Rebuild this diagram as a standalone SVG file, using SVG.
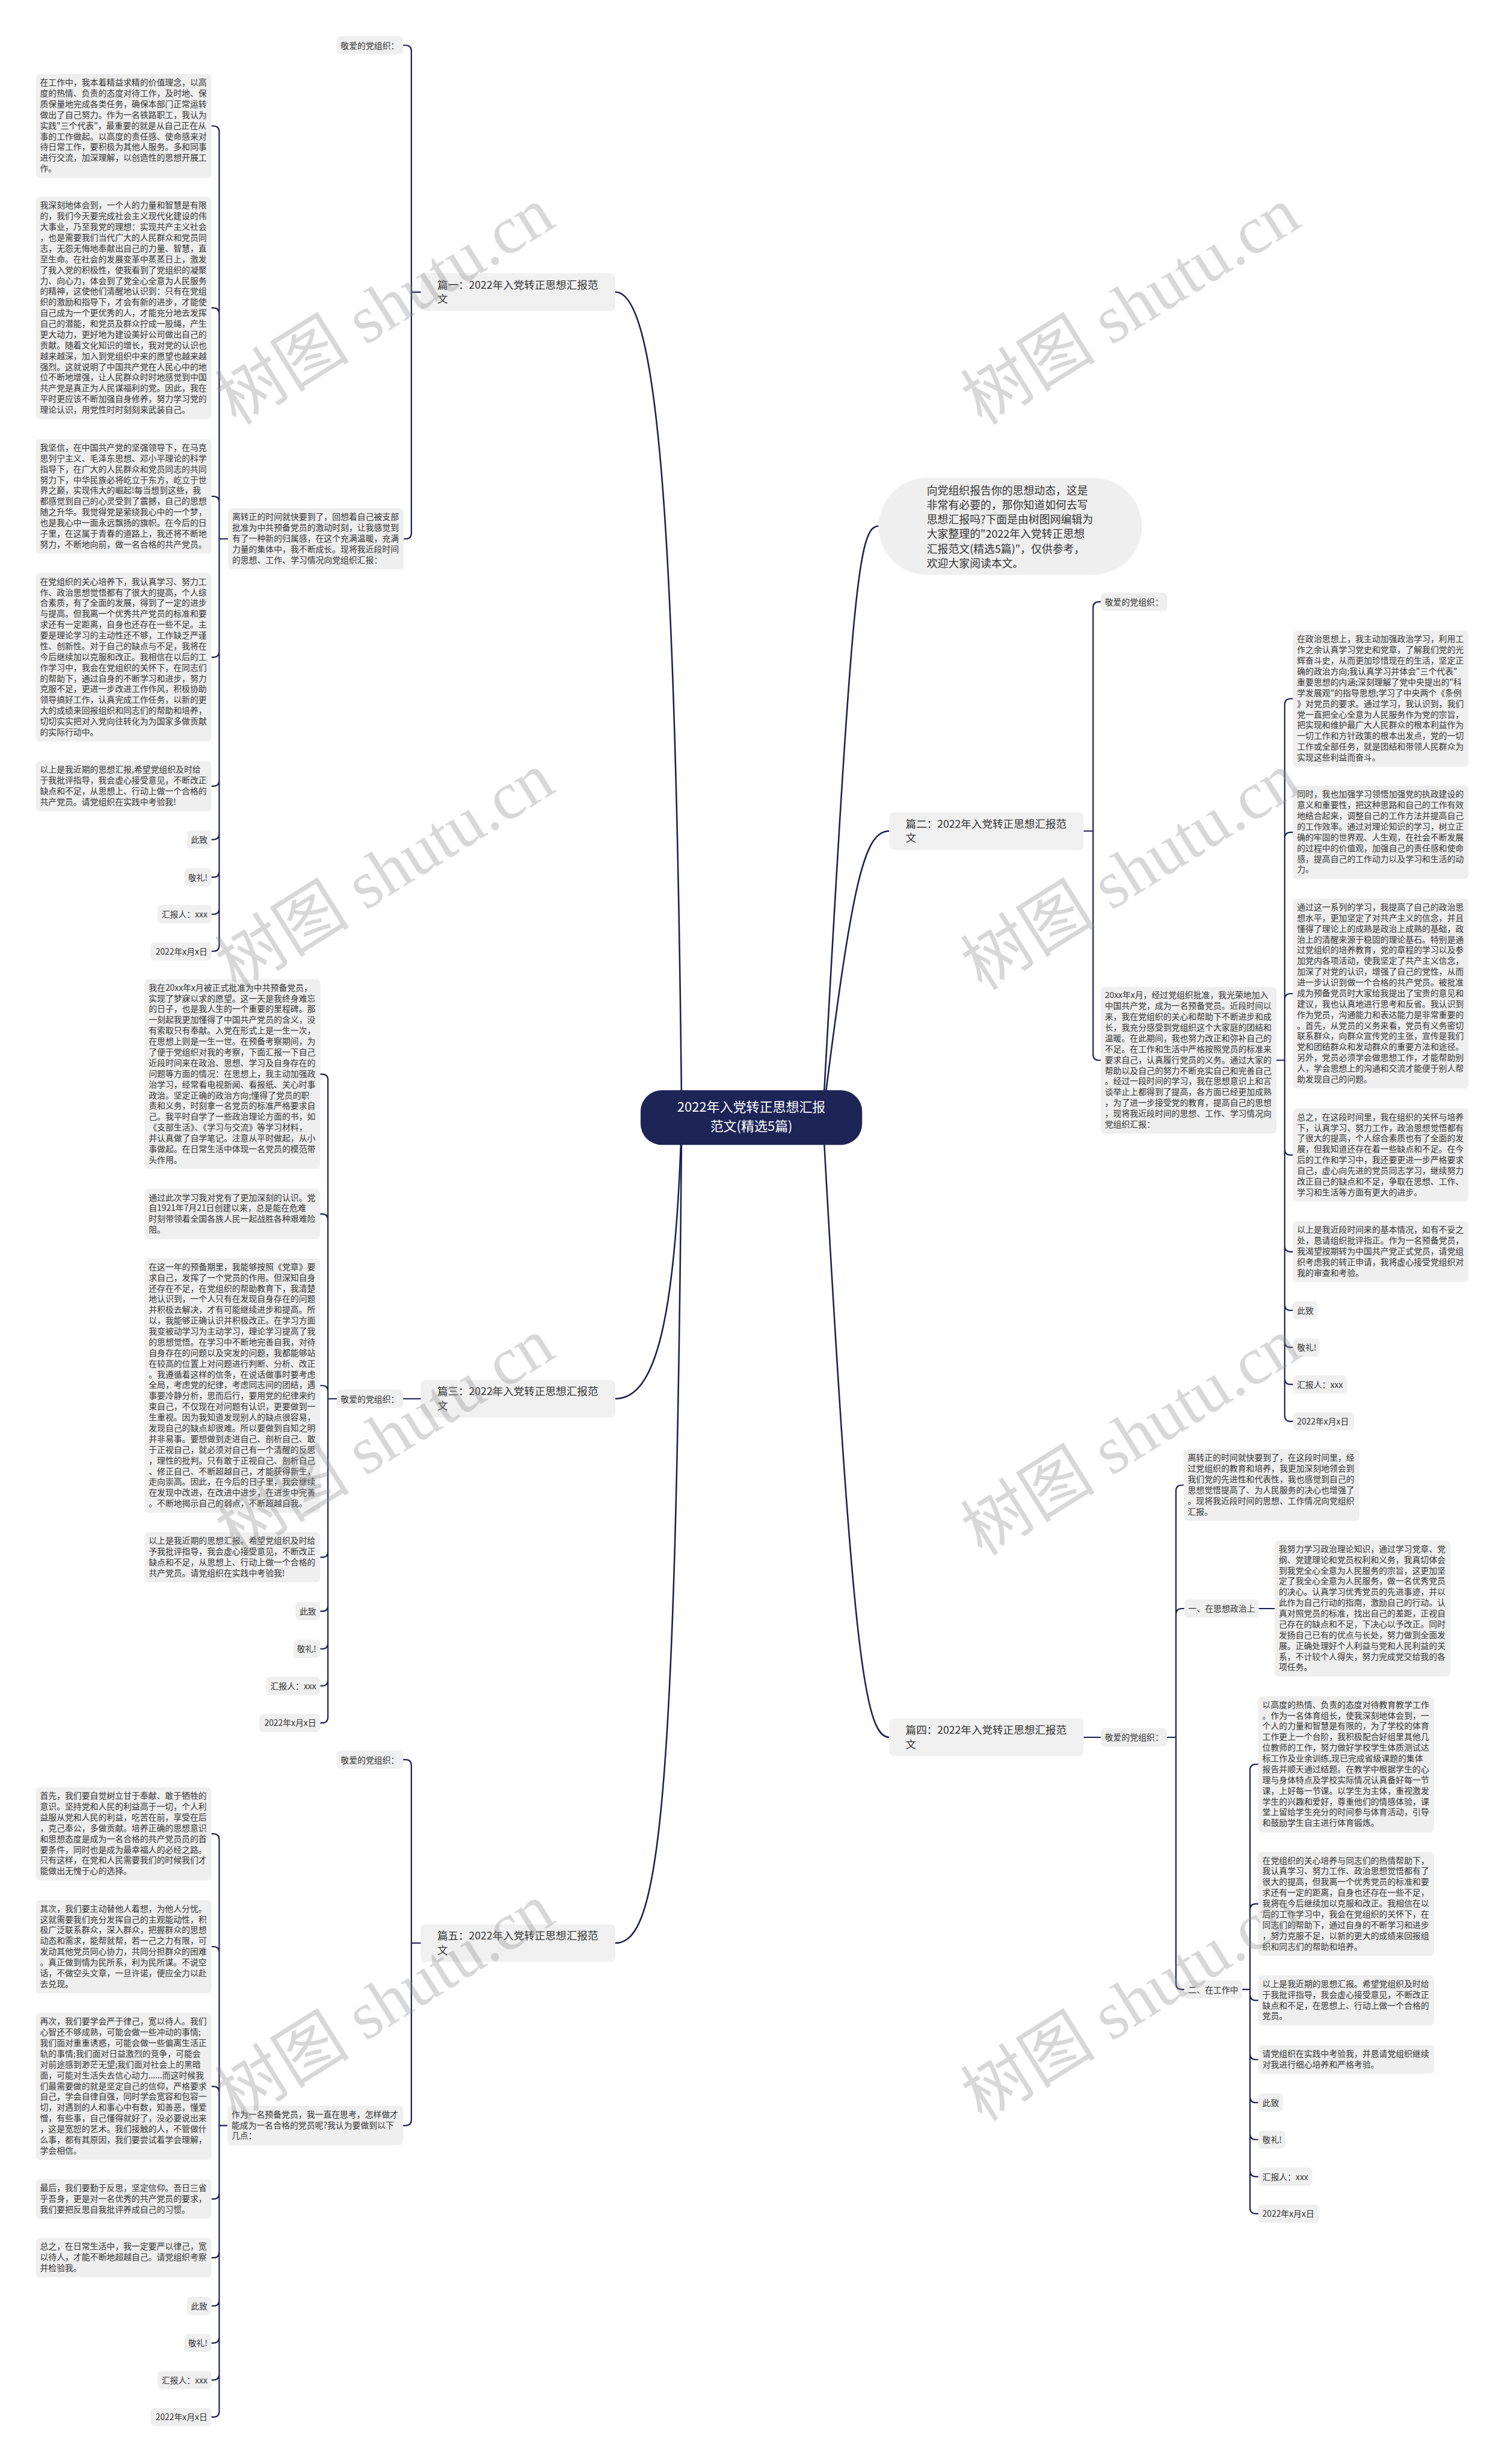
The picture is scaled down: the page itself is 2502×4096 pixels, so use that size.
<svg xmlns="http://www.w3.org/2000/svg" width="2502" height="4096" viewBox="0 0 2502 4096">
<style>
.t{font-family:"Noto Sans CJK SC","Liberation Sans",sans-serif;font-size:14.2px;fill:#333}
.e{text-anchor:end}
.bx{fill:#efefef}
.sb{fill:#f0f0f0}
.st{font-family:"Noto Sans CJK SC","Liberation Sans",sans-serif;font-size:18px;fill:#333}
.ln{fill:none;stroke:#1b1f4f;stroke-width:2.2;stroke-linecap:round}
.rt{fill:none;stroke:#1b1f4f;stroke-width:2.6}
.wm{font-family:"Liberation Serif","Noto Sans CJK SC",serif;font-size:115px;fill:#8c8c8c;opacity:0.33;text-anchor:middle}
</style>
<rect x="0" y="0" width="2502" height="4096" fill="#ffffff"/>
<g transform="scale(0.977)">
<g id="connectors">
<path class="rt" d="M1160 1901 C1150 900 1120 497 1047 497"/>
<path class="rt" d="M1160 1901 C1150 2250 1115 2380 1047 2380"/>
<path class="rt" d="M1160 1901 C1150 3100 1120 3306 1047 3306"/>
<path class="rt" d="M1400 1901 C1450 1000 1460 895 1495 895"/>
<path class="rt" d="M1400 1901 C1450 1500 1470 1414 1513 1414"/>
<path class="rt" d="M1400 1901 C1450 2800 1470 2956 1513 2956"/>
<path class="ln" d="M716 497 H700 M686 77 H690 Q700 77 700 87 V906.8 Q700 916.8 690 916.8 H687"/>
<path class="ln" d="M388 916.8 H373 M360 214.4 H363 Q373 214.4 373 224.4 V1608.5 Q373 1618.5 363 1618.5 H360 M373 534 Q373 524 363 524 H360 M373 854.5 Q373 844.5 363 844.5 H360 M373 1108.3 Q373 1118.3 363 1118.3 H360 M373 1327.6 Q373 1337.6 363 1337.6 H360 M373 1418.5 Q373 1428.5 363 1428.5 H360 M373 1482.5 Q373 1492.5 363 1492.5 H360 M373 1545.5 Q373 1555.5 363 1555.5 H360"/>
<path class="ln" d="M716 2380 H686 M573 2380 H558 M545 1827.6 H548 Q558 1827.6 558 1837.6 V2921.5 Q558 2931.5 548 2931.5 H545 M558 2075.6 Q558 2065.6 548 2065.6 H545 M558 2367.5 Q558 2357.5 548 2357.5 H545 M558 2639.6 Q558 2649.6 548 2649.6 H545 M558 2731.5 Q558 2741.5 548 2741.5 H545 M558 2795.5 Q558 2805.5 548 2805.5 H545 M558 2858.5 Q558 2868.5 548 2868.5 H545"/>
<path class="ln" d="M716 3306 H700 M686 2994 H690 Q700 2994 700 3004 V3606.5 Q700 3616.5 690 3616.5 H686"/>
<path class="ln" d="M387 3616.5 H373 M360 3120.2 H363 Q373 3120.2 373 3130.2 V4102.5 Q373 4112.5 363 4112.5 H360 M373 3322.2 Q373 3312.2 363 3312.2 H360 M373 3560 Q373 3550 363 3550 H360 M373 3731.5 Q373 3741.5 363 3741.5 H360 M373 3831.5 Q373 3841.5 363 3841.5 H360 M373 3913.5 Q373 3923.5 363 3923.5 H360 M373 3976.5 Q373 3986.5 363 3986.5 H360 M373 4039.5 Q373 4049.5 363 4049.5 H360"/>
<path class="ln" d="M1844 1414 H1860 M1873 1024 H1870 Q1860 1024 1860 1034 V1794 Q1860 1804 1870 1804 H1873"/>
<path class="ln" d="M2172 1804 H2186 M2200 1188.8 H2196 Q2186 1188.8 2186 1198.8 V2408.5 Q2186 2418.5 2196 2418.5 H2200 M2186 1426.2 Q2186 1416.2 2196 1416.2 H2200 M2186 1700.6 Q2186 1690.6 2196 1690.6 H2200 M2186 1955.2 Q2186 1965.2 2196 1965.2 H2200 M2186 2119.8 Q2186 2129.8 2196 2129.8 H2200 M2186 2219.5 Q2186 2229.5 2196 2229.5 H2200 M2186 2282.5 Q2186 2292.5 2196 2292.5 H2200 M2186 2345.5 Q2186 2355.5 2196 2355.5 H2200"/>
<path class="ln" d="M1844 2956 H1873 M1986 2956 H2001 M2014 2526.9 H2011 Q2001 2526.9 2001 2536.9 V3375 Q2001 3385 2011 3385 H2015 M2001 2747 Q2001 2737 2011 2737 H2015 M2142 2737 H2169"/>
<path class="ln" d="M2114 3385 H2127 M2141 3001.8 H2137 Q2127 3001.8 2127 3011.8 V3756.5 Q2127 3766.5 2137 3766.5 H2141 M2127 3249.4 Q2127 3239.4 2137 3239.4 H2141 M2127 3393.6 Q2127 3403.6 2137 3403.6 H2141 M2127 3494.3 Q2127 3504.3 2137 3504.3 H2141 M2127 3567.5 Q2127 3577.5 2137 3577.5 H2141 M2127 3630.5 Q2127 3640.5 2137 3640.5 H2141 M2127 3693.5 Q2127 3703.5 2137 3703.5 H2141"/>
</g>

<g id="n-root"><rect x="1090" y="1855" width="377" height="93" rx="36" fill="#1d2456"/><text x="1278.5" y="1892" text-anchor="middle" font-family="Noto Sans CJK SC, Liberation Sans, sans-serif" font-size="22.5" fill="#ffffff"><tspan x="1278.5" dy="0">2022年入党转正思想汇报</tspan><tspan x="1278.5" dy="32">范文(精选5篇)</tspan></text></g>

<g id="n-intro"><rect x="1495" y="813" width="448" height="165" rx="82.5" class="bx"/><text class="t" x="1577" y="841.5" font-size="18.3" style="font-size:18.3px"><tspan x="1577" dy="0">向党组织报告你的思想动态，这是</tspan><tspan x="1577" dy="24.66">非常有必要的，那你知道如何去写</tspan><tspan x="1577" dy="24.66">思想汇报吗?下面是由树图网编辑为</tspan><tspan x="1577" dy="24.66">大家整理的"2022年入党转正思想</tspan><tspan x="1577" dy="24.66">汇报范文(精选5篇)"，仅供参考，</tspan><tspan x="1577" dy="24.66">欢迎大家阅读本文。</tspan></text></g>

<!-- Section 1 -->
<g id="n-s1"><rect x="716" y="465" width="331" height="64" rx="8" class="sb"/><text class="st" x="744" y="491"><tspan x="744" dy="0">篇一：2022年入党转正思想汇报范</tspan><tspan x="744" dy="24">文</tspan></text></g>
<g id="n-s1-dear"><rect x="573" y="61.5" width="113" height="31" rx="7" class="bx"/><text class="t e" x="679" y="82.5">敬爱的党组织：</text></g>
<g id="n-s1-lead"><rect x="388" y="865" width="299" height="103.5" rx="7" class="bx"/><text class="t" x="395" y="884.5"><tspan x="395" dy="0">离转正的时间就快要到了，回想着自己被支部</tspan><tspan x="395" dy="18.3">批准为中共预备党员的激动时刻，让我感觉到</tspan><tspan x="395" dy="18.3">有了一种新的归属感，在这个充满温暖，充满</tspan><tspan x="395" dy="18.3">力量的集体中，我不断成长。现将我近段时间</tspan><tspan x="395" dy="18.3">的思想、工作、学习情况向党组织汇报：</tspan></text></g>
<g id="n-s1-b1"><rect x="61" y="126" width="299" height="176.7" rx="7" class="bx"/><text class="t" x="68" y="145.5"><tspan x="68" dy="0">在工作中，我本着精益求精的价值理念，以高</tspan><tspan x="68" dy="18.3">度的热情、负责的态度对待工作，及时地、保</tspan><tspan x="68" dy="18.3">质保量地完成各类任务，确保本部门正常运转</tspan><tspan x="68" dy="18.3">做出了自己努力。作为一名铁路职工，我认为</tspan><tspan x="68" dy="18.3">实践"三个代表"，最重要的就是从自己正在从</tspan><tspan x="68" dy="18.3">事的工作做起。以高度的责任感、使命感来对</tspan><tspan x="68" dy="18.3">待日常工作，要积极为其他人服务。多和同事</tspan><tspan x="68" dy="18.3">进行交流，加深理解，以创造性的思想开展工</tspan><tspan x="68" dy="18.3">作。</tspan></text></g>
<g id="n-s1-b2"><rect x="61" y="335" width="299" height="378" rx="7" class="bx"/><text class="t" x="68" y="354.5"><tspan x="68" dy="0">我深刻地体会到，一个人的力量和智慧是有限</tspan><tspan x="68" dy="18.3">的，我们今天要完成社会主义现代化建设的伟</tspan><tspan x="68" dy="18.3">大事业，乃至我党的理想：实现共产主义社会</tspan><tspan x="68" dy="18.3">，也是需要我们当代广大的人民群众和党员同</tspan><tspan x="68" dy="18.3">志，无怨无悔地奉献出自己的力量、智慧，直</tspan><tspan x="68" dy="18.3">至生命。在社会的发展变革中蒸蒸日上，激发</tspan><tspan x="68" dy="18.3">了我入党的积极性，使我看到了党组织的凝聚</tspan><tspan x="68" dy="18.3">力、向心力，体会到了党全心全意为人民服务</tspan><tspan x="68" dy="18.3">的精神，这使他们清醒地认识到：只有在党组</tspan><tspan x="68" dy="18.3">织的激励和指导下，才会有新的进步，才能使</tspan><tspan x="68" dy="18.3">自己成为一个更优秀的人，才能充分地去发挥</tspan><tspan x="68" dy="18.3">自己的潜能，和党员及群众拧成一股绳，产生</tspan><tspan x="68" dy="18.3">更大动力，更好地为建设美好公司做出自己的</tspan><tspan x="68" dy="18.3">贡献。随着文化知识的增长，我对党的认识也</tspan><tspan x="68" dy="18.3">越来越深，加入到党组织中来的愿望也越来越</tspan><tspan x="68" dy="18.3">强烈。这就说明了中国共产党在人民心中的地</tspan><tspan x="68" dy="18.3">位不断地增强，让人民群众时时地感觉到中国</tspan><tspan x="68" dy="18.3">共产党是真正为人民谋福利的党。因此，我在</tspan><tspan x="68" dy="18.3">平时更应该不断加强自身修养，努力学习党的</tspan><tspan x="68" dy="18.3">理论认识，用党性时时刻刻来武装自己。</tspan></text></g>
<g id="n-s1-b3"><rect x="61" y="747" width="299" height="195" rx="7" class="bx"/><text class="t" x="68" y="766.5"><tspan x="68" dy="0">我坚信，在中国共产党的坚强领导下，在马克</tspan><tspan x="68" dy="18.3">思列宁主义、毛泽东思想、邓小平理论的科学</tspan><tspan x="68" dy="18.3">指导下，在广大的人民群众和党员同志的共同</tspan><tspan x="68" dy="18.3">努力下，中华民族必将屹立于东方，屹立于世</tspan><tspan x="68" dy="18.3">界之巅，实现伟大的崛起!每当想到这些，我</tspan><tspan x="68" dy="18.3">都感觉到自己的心灵受到了震撼，自己的思想</tspan><tspan x="68" dy="18.3">随之升华。我觉得党是萦绕我心中的一个梦，</tspan><tspan x="68" dy="18.3">也是我心中一面永远飘扬的旗帜。在今后的日</tspan><tspan x="68" dy="18.3">子里，在这属于青春的道路上，我还将不断地</tspan><tspan x="68" dy="18.3">努力，不断地向前，做一名合格的共产党员。</tspan></text></g>
<g id="n-s1-b4"><rect x="61" y="975" width="299" height="286.5" rx="7" class="bx"/><text class="t" x="68" y="994.5"><tspan x="68" dy="0">在党组织的关心培养下，我认真学习、努力工</tspan><tspan x="68" dy="18.3">作、政治思想觉悟都有了很大的提高，个人综</tspan><tspan x="68" dy="18.3">合素质，有了全面的发展，得到了一定的进步</tspan><tspan x="68" dy="18.3">与提高。但我离一个优秀共产党员的标准和要</tspan><tspan x="68" dy="18.3">求还有一定距离，自身也还存在一些不足。主</tspan><tspan x="68" dy="18.3">要是理论学习的主动性还不够，工作缺乏严谨</tspan><tspan x="68" dy="18.3">性、创新性。对于自己的缺点与不足，我将在</tspan><tspan x="68" dy="18.3">今后继续加以克服和改正。我相信在以后的工</tspan><tspan x="68" dy="18.3">作学习中，我会在党组织的关怀下，在同志们</tspan><tspan x="68" dy="18.3">的帮助下，通过自身的不断学习和进步，努力</tspan><tspan x="68" dy="18.3">克服不足，更进一步改进工作作风，积极协助</tspan><tspan x="68" dy="18.3">领导搞好工作，认真完成工作任务，以新的更</tspan><tspan x="68" dy="18.3">大的成绩来回报组织和同志们的帮助和培养，</tspan><tspan x="68" dy="18.3">切切实实把对入党向往转化为为国家多做贡献</tspan><tspan x="68" dy="18.3">的实际行动中。</tspan></text></g>
<g id="n-s1-b5"><rect x="61" y="1295" width="299" height="85.2" rx="7" class="bx"/><text class="t" x="68" y="1314.5"><tspan x="68" dy="0">以上是我近期的思想汇报,希望党组织及时给</tspan><tspan x="68" dy="18.3">于我批评指导，我会虚心接受意见，不断改正</tspan><tspan x="68" dy="18.3">缺点和不足，从思想上、行动上做一个合格的</tspan><tspan x="68" dy="18.3">共产党员。请党组织在实践中考验我!</tspan></text></g>
<g id="n-s1-c1"><rect x="318" y="1413" width="42" height="31" rx="7" class="bx"/><text class="t e" x="353" y="1434">此致</text></g>
<g id="n-s1-c2"><rect x="314" y="1477" width="46" height="31" rx="7" class="bx"/><text class="t e" x="353" y="1498">敬礼!</text></g>
<g id="n-s1-c3"><rect x="268" y="1540" width="92" height="31" rx="7" class="bx"/><text class="t e" x="353" y="1561">汇报人：xxx</text></g>
<g id="n-s1-c4"><rect x="256" y="1603" width="104" height="31" rx="7" class="bx"/><text class="t e" x="353" y="1624">2022年x月x日</text></g>

<!-- Section 3 -->
<g id="n-s3"><rect x="716" y="2348" width="331" height="64" rx="8" class="sb"/><text class="st" x="744" y="2374"><tspan x="744" dy="0">篇三：2022年入党转正思想汇报范</tspan><tspan x="744" dy="24">文</tspan></text></g>
<g id="n-s3-dear"><rect x="573" y="2364.5" width="113" height="31" rx="7" class="bx"/><text class="t e" x="679" y="2385.5">敬爱的党组织：</text></g>
<g id="n-s3-a"><rect x="246" y="1666" width="299" height="323.1" rx="7" class="bx"/><text class="t" x="253" y="1685.5"><tspan x="253" dy="0">我在20xx年x月被正式批准为中共预备党员，</tspan><tspan x="253" dy="18.3">实现了梦寐以求的愿望。这一天是我终身难忘</tspan><tspan x="253" dy="18.3">的日子，也是我人生的一个重要的里程碑。那</tspan><tspan x="253" dy="18.3">一刻起我更加懂得了中国共产党员的含义，没</tspan><tspan x="253" dy="18.3">有索取只有奉献。入党在形式上是一生一次，</tspan><tspan x="253" dy="18.3">在思想上则是一生一世。在预备考察期间，为</tspan><tspan x="253" dy="18.3">了便于党组织对我的考察，下面汇报一下自己</tspan><tspan x="253" dy="18.3">近段时间来在政治、思想、学习及自身存在的</tspan><tspan x="253" dy="18.3">问题等方面的情况：在思想上，我主动加强政</tspan><tspan x="253" dy="18.3">治学习，经常看电视新闻、看报纸、关心时事</tspan><tspan x="253" dy="18.3">政治。坚定正确的政治方向;懂得了党员的职</tspan><tspan x="253" dy="18.3">责和义务，时刻拿一名党员的标准严格要求自</tspan><tspan x="253" dy="18.3">己。我平时自学了一些政治理论方面的书，如</tspan><tspan x="253" dy="18.3">《支部生活》、《学习与交流》等学习材料，</tspan><tspan x="253" dy="18.3">并认真做了自学笔记。注意从平时做起，从小</tspan><tspan x="253" dy="18.3">事做起。在日常生活中体现一名党员的模范带</tspan><tspan x="253" dy="18.3">头作用。</tspan></text></g>
<g id="n-s3-b"><rect x="246" y="2023" width="299" height="85.2" rx="7" class="bx"/><text class="t" x="253" y="2042.5"><tspan x="253" dy="0">通过此次学习我对党有了更加深刻的认识。党</tspan><tspan x="253" dy="18.3">自1921年7月21日创建以来，总是能在危难</tspan><tspan x="253" dy="18.3">时刻带领着全国各族人民一起战胜各种艰难险</tspan><tspan x="253" dy="18.3">阻。</tspan></text></g>
<g id="n-s3-c"><rect x="246" y="2141" width="299" height="432.9" rx="7" class="bx"/><text class="t" x="253" y="2160.5"><tspan x="253" dy="0">在这一年的预备期里，我能够按照《党章》要</tspan><tspan x="253" dy="18.3">求自己，发挥了一个党员的作用。但深知自身</tspan><tspan x="253" dy="18.3">还存在不足，在党组织的帮助教育下，我清楚</tspan><tspan x="253" dy="18.3">地认识到，一个人只有在发现自身存在的问题</tspan><tspan x="253" dy="18.3">并积极去解决，才有可能继续进步和提高。所</tspan><tspan x="253" dy="18.3">以，我能够正确认识并积极改正。在学习方面</tspan><tspan x="253" dy="18.3">我变被动学习为主动学习，理论学习提高了我</tspan><tspan x="253" dy="18.3">的思想觉悟。在学习中不断地完善自我，对待</tspan><tspan x="253" dy="18.3">自身存在的问题以及突发的问题，我都能够站</tspan><tspan x="253" dy="18.3">在较高的位置上对问题进行判断、分析、改正</tspan><tspan x="253" dy="18.3">。我遵循着这样的信条，在说话做事时要考虑</tspan><tspan x="253" dy="18.3">全局，考虑党的纪律，考虑同志间的团结，遇</tspan><tspan x="253" dy="18.3">事要冷静分析，思而后行，要用党的纪律来约</tspan><tspan x="253" dy="18.3">束自己，不仅现在对问题有认识，更要做到一</tspan><tspan x="253" dy="18.3">生重视。因为我知道发现别人的缺点很容易，</tspan><tspan x="253" dy="18.3">发现自己的缺点却很难。所以要做到自知之明</tspan><tspan x="253" dy="18.3">并非易事。要想做到走进自己、剖析自己、敢</tspan><tspan x="253" dy="18.3">于正视自己，就必须对自己有一个清醒的反思</tspan><tspan x="253" dy="18.3">，理性的批判。只有敢于正视自己、剖析自己</tspan><tspan x="253" dy="18.3">、修正自己、不断超越自己，才能获得新生，</tspan><tspan x="253" dy="18.3">走向崇高。因此，在今后的日子里，我会继续</tspan><tspan x="253" dy="18.3">在发现中改进，在改进中进步，在进步中完善</tspan><tspan x="253" dy="18.3">。不断地揭示自己的弱点，不断超越自我。</tspan></text></g>
<g id="n-s3-d"><rect x="246" y="2607" width="299" height="85.2" rx="7" class="bx"/><text class="t" x="253" y="2626.5"><tspan x="253" dy="0">以上是我近期的思想汇报。希望党组织及时给</tspan><tspan x="253" dy="18.3">予我批评指导，我会虚心接受意见，不断改正</tspan><tspan x="253" dy="18.3">缺点和不足，从思想上、行动上做一个合格的</tspan><tspan x="253" dy="18.3">共产党员。请党组织在实践中考验我!</tspan></text></g>
<g id="n-s3-c1"><rect x="503" y="2726" width="42" height="31" rx="7" class="bx"/><text class="t e" x="538" y="2747">此致</text></g>
<g id="n-s3-c2"><rect x="499" y="2790" width="46" height="31" rx="7" class="bx"/><text class="t e" x="538" y="2811">敬礼!</text></g>
<g id="n-s3-c3"><rect x="453" y="2853" width="92" height="31" rx="7" class="bx"/><text class="t e" x="538" y="2874">汇报人：xxx</text></g>
<g id="n-s3-c4"><rect x="441" y="2916" width="104" height="31" rx="7" class="bx"/><text class="t e" x="538" y="2937">2022年x月x日</text></g>

<!-- Section 5 -->
<g id="n-s5"><rect x="716" y="3274" width="331" height="64" rx="8" class="sb"/><text class="st" x="744" y="3300"><tspan x="744" dy="0">篇五：2022年入党转正思想汇报范</tspan><tspan x="744" dy="24">文</tspan></text></g>
<g id="n-s5-dear"><rect x="573" y="2978.5" width="113" height="31" rx="7" class="bx"/><text class="t e" x="679" y="2999.5">敬爱的党组织：</text></g>
<g id="n-s5-lead"><rect x="387" y="3583" width="299" height="66.9" rx="7" class="bx"/><text class="t" x="394" y="3602.5"><tspan x="394" dy="0">作为一名预备党员，我一直在思考，怎样做才</tspan><tspan x="394" dy="18.3">能成为一名合格的党员呢?我认为要做到以下</tspan><tspan x="394" dy="18.3">几点：</tspan></text></g>
<g id="n-s5-b1"><rect x="61" y="3041" width="299" height="158.4" rx="7" class="bx"/><text class="t" x="68" y="3060.5"><tspan x="68" dy="0">首先，我们要自觉树立甘于奉献、敢于牺牲的</tspan><tspan x="68" dy="18.3">意识。坚持党和人民的利益高于一切，个人利</tspan><tspan x="68" dy="18.3">益服从党和人民的利益，吃苦在前，享受在后</tspan><tspan x="68" dy="18.3">，克己奉公，多做贡献。培养正确的思想意识</tspan><tspan x="68" dy="18.3">和思想态度是成为一名合格的共产党员员的首</tspan><tspan x="68" dy="18.3">要条件，同时也是成为最幸福人的必经之路。</tspan><tspan x="68" dy="18.3">只有这样，在党和人民需要我们的时候我们才</tspan><tspan x="68" dy="18.3">能做出无愧于心的选择。</tspan></text></g>
<g id="n-s5-b2"><rect x="61" y="3233" width="299" height="158.4" rx="7" class="bx"/><text class="t" x="68" y="3252.5"><tspan x="68" dy="0">其次，我们要主动替他人着想，为他人分忧。</tspan><tspan x="68" dy="18.3">这就需要我们充分发挥自己的主观能动性，积</tspan><tspan x="68" dy="18.3">极广泛联系群众，深入群众，把握群众的思想</tspan><tspan x="68" dy="18.3">动态和需求，能帮就帮，若一己之力有限，可</tspan><tspan x="68" dy="18.3">发动其他党员同心协力，共同分担群众的困难</tspan><tspan x="68" dy="18.3">。真正做到情为民所系，利为民所谋。不说空</tspan><tspan x="68" dy="18.3">话，不做空头文章，一旦许诺，便应全力以赴</tspan><tspan x="68" dy="18.3">去兑现。</tspan></text></g>
<g id="n-s5-b3"><rect x="61" y="3425" width="299" height="249.9" rx="7" class="bx"/><text class="t" x="68" y="3444.5"><tspan x="68" dy="0">再次，我们要学会严于律己，宽以待人。我们</tspan><tspan x="68" dy="18.3">心智还不够成熟，可能会做一些冲动的事情;</tspan><tspan x="68" dy="18.3">我们面对重重诱惑，可能会做一些偏离生活正</tspan><tspan x="68" dy="18.3">轨的事情;我们面对日益激烈的竞争，可能会</tspan><tspan x="68" dy="18.3">对前途感到渺茫无望;我们面对社会上的黑暗</tspan><tspan x="68" dy="18.3">面，可能对生活失去信心动力......而这时候我</tspan><tspan x="68" dy="18.3">们最需要做的就是坚定自己的信仰，严格要求</tspan><tspan x="68" dy="18.3">自己，学会自律自强，同时学会宽容和包容一</tspan><tspan x="68" dy="18.3">切，对遇到的人和事心中有数，知善恶，懂爱</tspan><tspan x="68" dy="18.3">憎，有些事，自己懂得就好了，没必要说出来</tspan><tspan x="68" dy="18.3">，这是宽恕的艺术。我们接触的人，不管做什</tspan><tspan x="68" dy="18.3">么事，都有其原因，我们要尝试着学会理解，</tspan><tspan x="68" dy="18.3">学会相信。</tspan></text></g>
<g id="n-s5-b4"><rect x="61" y="3708" width="299" height="66.9" rx="7" class="bx"/><text class="t" x="68" y="3727.5"><tspan x="68" dy="0">最后，我们要勤于反思，坚定信仰。吾日三省</tspan><tspan x="68" dy="18.3">乎吾身，更是对一名优秀的共产党员的要求，</tspan><tspan x="68" dy="18.3">我们要把反思自我批评养成自己的习惯。</tspan></text></g>
<g id="n-s5-b5"><rect x="61" y="3808" width="299" height="66.9" rx="7" class="bx"/><text class="t" x="68" y="3827.5"><tspan x="68" dy="0">总之，在日常生活中，我一定要严以律己，宽</tspan><tspan x="68" dy="18.3">以待人，才能不断地超越自己。请党组织考察</tspan><tspan x="68" dy="18.3">并检验我。</tspan></text></g>
<g id="n-s5-c1"><rect x="318" y="3908" width="42" height="31" rx="7" class="bx"/><text class="t e" x="353" y="3929">此致</text></g>
<g id="n-s5-c2"><rect x="314" y="3971" width="46" height="31" rx="7" class="bx"/><text class="t e" x="353" y="3992">敬礼!</text></g>
<g id="n-s5-c3"><rect x="268" y="4034" width="92" height="31" rx="7" class="bx"/><text class="t e" x="353" y="4055">汇报人：xxx</text></g>
<g id="n-s5-c4"><rect x="256" y="4097" width="104" height="31" rx="7" class="bx"/><text class="t e" x="353" y="4118">2022年x月x日</text></g>

<!-- Section 2 -->
<g id="n-s2"><rect x="1513" y="1382" width="331" height="64" rx="8" class="sb"/><text class="st" x="1541" y="1408"><tspan x="1541" dy="0">篇二：2022年入党转正思想汇报范</tspan><tspan x="1541" dy="24">文</tspan></text></g>
<g id="n-s2-dear"><rect x="1873" y="1008.5" width="113" height="31" rx="7" class="bx"/><text class="t" x="1880" y="1029.5">敬爱的党组织：</text></g>
<g id="n-s2-lead"><rect x="1873" y="1679" width="299" height="249.9" rx="7" class="bx"/><text class="t" x="1880" y="1698.5"><tspan x="1880" dy="0">20xx年x月，经过党组织批准，我光荣地加入</tspan><tspan x="1880" dy="18.3">中国共产党，成为一名预备党员。近段时间以</tspan><tspan x="1880" dy="18.3">来，我在党组织的关心和帮助下不断进步和成</tspan><tspan x="1880" dy="18.3">长，我充分感受到党组织这个大家庭的团结和</tspan><tspan x="1880" dy="18.3">温暖。在此期间，我也努力改正和弥补自己的</tspan><tspan x="1880" dy="18.3">不足。在工作和生活中严格按照党员的标准来</tspan><tspan x="1880" dy="18.3">要求自己，认真履行党员的义务。通过大家的</tspan><tspan x="1880" dy="18.3">帮助以及自己的努力不断充实自己和完善自己</tspan><tspan x="1880" dy="18.3">。经过一段时间的学习，我在思想意识上和言</tspan><tspan x="1880" dy="18.3">谈举止上都得到了提高，各方面已经更加成熟</tspan><tspan x="1880" dy="18.3">，为了进一步接受党的教育，提高自己的思想</tspan><tspan x="1880" dy="18.3">，现将我近段时间的思想、工作、学习情况向</tspan><tspan x="1880" dy="18.3">党组织汇报：</tspan></text></g>
<g id="n-s2-b1"><rect x="2200" y="1073" width="299" height="231.6" rx="7" class="bx"/><text class="t" x="2207" y="1092.5"><tspan x="2207" dy="0">在政治思想上，我主动加强政治学习，利用工</tspan><tspan x="2207" dy="18.3">作之余认真学习党史和党章，了解我们党的光</tspan><tspan x="2207" dy="18.3">辉奋斗史，从而更加珍惜现在的生活，坚定正</tspan><tspan x="2207" dy="18.3">确的政治方向;我认真学习并体会"三个代表"</tspan><tspan x="2207" dy="18.3">重要思想的内涵;深刻理解了党中央提出的"科</tspan><tspan x="2207" dy="18.3">学发展观"的指导思想;学习了中央两个《条例</tspan><tspan x="2207" dy="18.3">》对党员的要求。通过学习，我认识到，我们</tspan><tspan x="2207" dy="18.3">党一直把全心全意为人民服务作为党的宗旨，</tspan><tspan x="2207" dy="18.3">把实现和维护最广大人民群众的根本利益作为</tspan><tspan x="2207" dy="18.3">一切工作和方针政策的根本出发点，党的一切</tspan><tspan x="2207" dy="18.3">工作或全部任务，就是团结和带领人民群众为</tspan><tspan x="2207" dy="18.3">实现这些利益而奋斗。</tspan></text></g>
<g id="n-s2-b2"><rect x="2200" y="1337" width="299" height="158.4" rx="7" class="bx"/><text class="t" x="2207" y="1356.5"><tspan x="2207" dy="0">同时，我也加强学习领悟加强党的执政建设的</tspan><tspan x="2207" dy="18.3">意义和重要性，把这种思路和自己的工作有效</tspan><tspan x="2207" dy="18.3">地结合起来，调整自己的工作方法并提高自己</tspan><tspan x="2207" dy="18.3">的工作效率。通过对理论知识的学习，树立正</tspan><tspan x="2207" dy="18.3">确的牢固的世界观、人生观，在社会不断发展</tspan><tspan x="2207" dy="18.3">的过程中的价值观，加强自己的责任感和使命</tspan><tspan x="2207" dy="18.3">感，提高自己的工作动力以及学习和生活的动</tspan><tspan x="2207" dy="18.3">力。</tspan></text></g>
<g id="n-s2-b3"><rect x="2200" y="1529" width="299" height="323.1" rx="7" class="bx"/><text class="t" x="2207" y="1548.5"><tspan x="2207" dy="0">通过这一系列的学习，我提高了自己的政治思</tspan><tspan x="2207" dy="18.3">想水平，更加坚定了对共产主义的信念，并且</tspan><tspan x="2207" dy="18.3">懂得了理论上的成熟是政治上成熟的基础，政</tspan><tspan x="2207" dy="18.3">治上的清醒来源于稳固的理论基石。特别是通</tspan><tspan x="2207" dy="18.3">过党组织的培养教育，党的章程的学习以及参</tspan><tspan x="2207" dy="18.3">加党内各项活动，使我坚定了共产主义信念，</tspan><tspan x="2207" dy="18.3">加深了对党的认识，增强了自己的党性，从而</tspan><tspan x="2207" dy="18.3">进一步认识到做一个合格的共产党员。被批准</tspan><tspan x="2207" dy="18.3">成为预备党员时大家给我提出了宝贵的意见和</tspan><tspan x="2207" dy="18.3">建议，我也认真地进行思考和反省。我认识到</tspan><tspan x="2207" dy="18.3">作为党员，沟通能力和表达能力是非常重要的</tspan><tspan x="2207" dy="18.3">。首先，从党员的义务来看，党员有义务密切</tspan><tspan x="2207" dy="18.3">联系群众，向群众宣传党的主张，宣传是我们</tspan><tspan x="2207" dy="18.3">党和团结群众和发动群众的重要方法和途径。</tspan><tspan x="2207" dy="18.3">另外，党员必须学会做思想工作，才能帮助别</tspan><tspan x="2207" dy="18.3">人，学会思想上的沟通和交流才能便于别人帮</tspan><tspan x="2207" dy="18.3">助发现自己的问题。</tspan></text></g>
<g id="n-s2-b4"><rect x="2200" y="1886" width="299" height="158.4" rx="7" class="bx"/><text class="t" x="2207" y="1905.5"><tspan x="2207" dy="0">总之，在这段时间里，我在组织的关怀与培养</tspan><tspan x="2207" dy="18.3">下，认真学习、努力工作，政治思想觉悟都有</tspan><tspan x="2207" dy="18.3">了很大的提高，个人综合素质也有了全面的发</tspan><tspan x="2207" dy="18.3">展，但我知道还存在着一些缺点和不足。在今</tspan><tspan x="2207" dy="18.3">后的工作和学习中，我还要更进一步严格要求</tspan><tspan x="2207" dy="18.3">自己，虚心向先进的党员同志学习，继续努力</tspan><tspan x="2207" dy="18.3">改正自己的缺点和不足，争取在思想、工作、</tspan><tspan x="2207" dy="18.3">学习和生活等方面有更大的进步。</tspan></text></g>
<g id="n-s2-b5"><rect x="2200" y="2078" width="299" height="103.5" rx="7" class="bx"/><text class="t" x="2207" y="2097.5"><tspan x="2207" dy="0">以上是我近段时间来的基本情况，如有不妥之</tspan><tspan x="2207" dy="18.3">处，恳请组织批评指正。作为一名预备党员，</tspan><tspan x="2207" dy="18.3">我渴望按期转为中国共产党正式党员，请党组</tspan><tspan x="2207" dy="18.3">织考虑我的转正申请，我将虚心接受党组织对</tspan><tspan x="2207" dy="18.3">我的审查和考验。</tspan></text></g>
<g id="n-s2-c1"><rect x="2200" y="2214" width="42" height="31" rx="7" class="bx"/><text class="t" x="2207" y="2235">此致</text></g>
<g id="n-s2-c2"><rect x="2200" y="2277" width="46" height="31" rx="7" class="bx"/><text class="t" x="2207" y="2298">敬礼!</text></g>
<g id="n-s2-c3"><rect x="2200" y="2340" width="92" height="31" rx="7" class="bx"/><text class="t" x="2207" y="2361">汇报人：xxx</text></g>
<g id="n-s2-c4"><rect x="2200" y="2403" width="104" height="31" rx="7" class="bx"/><text class="t" x="2207" y="2424">2022年x月x日</text></g>

<!-- Section 4 -->
<g id="n-s4"><rect x="1513" y="2924" width="331" height="64" rx="8" class="sb"/><text class="st" x="1541" y="2950"><tspan x="1541" dy="0">篇四：2022年入党转正思想汇报范</tspan><tspan x="1541" dy="24">文</tspan></text></g>
<g id="n-s4-dear"><rect x="1873" y="2940.5" width="113" height="31" rx="7" class="bx"/><text class="t" x="1880" y="2961.5">敬爱的党组织：</text></g>
<g id="n-s4-lead"><rect x="2014" y="2466" width="299" height="121.8" rx="7" class="bx"/><text class="t" x="2021" y="2485.5"><tspan x="2021" dy="0">离转正的时间就快要到了，在这段时间里，经</tspan><tspan x="2021" dy="18.3">过党组织的教育和培养，我更加深刻地领会到</tspan><tspan x="2021" dy="18.3">我们党的先进性和代表性，我也感觉到自己的</tspan><tspan x="2021" dy="18.3">思想觉悟提高了、为人民服务的决心也增强了</tspan><tspan x="2021" dy="18.3">。现将我近段时间的思想、工作情况向党组织</tspan><tspan x="2021" dy="18.3">汇报。</tspan></text></g>
<g id="n-s4-p1"><rect x="2015" y="2721.5" width="127" height="31" rx="7" class="bx"/><text class="t" x="2022" y="2742.5">一、在思想政治上</text></g>
<g id="n-s4-p1-b"><rect x="2169" y="2621" width="299" height="231.6" rx="7" class="bx"/><text class="t" x="2176" y="2640.5"><tspan x="2176" dy="0">我努力学习政治理论知识，通过学习党章、党</tspan><tspan x="2176" dy="18.3">纲、党建理论和党员权利和义务，我真切体会</tspan><tspan x="2176" dy="18.3">到我党全心全意为人民服务的宗旨，这更加坚</tspan><tspan x="2176" dy="18.3">定了我全心全意为人民服务，做一名优秀党员</tspan><tspan x="2176" dy="18.3">的决心。认真学习优秀党员的先进事迹，并以</tspan><tspan x="2176" dy="18.3">此作为自己行动的指南，激励自己的行动。认</tspan><tspan x="2176" dy="18.3">真对照党员的标准，找出自己的差距，正视自</tspan><tspan x="2176" dy="18.3">己存在的缺点和不足，下决心以予改正。同时</tspan><tspan x="2176" dy="18.3">发扬自己已有的优点与长处，努力做到全面发</tspan><tspan x="2176" dy="18.3">展。正确处理好个人利益与党和人民利益的关</tspan><tspan x="2176" dy="18.3">系，不计较个人得失，努力完成党交给我的各</tspan><tspan x="2176" dy="18.3">项任务。</tspan></text></g>
<g id="n-s4-p2"><rect x="2015" y="3369.5" width="99" height="31" rx="7" class="bx"/><text class="t" x="2022" y="3390.5">二、在工作中</text></g>
<g id="n-s4-p2-b1"><rect x="2141" y="2886" width="299" height="231.6" rx="7" class="bx"/><text class="t" x="2148" y="2905.5"><tspan x="2148" dy="0">以高度的热情、负责的态度对待教育教学工作</tspan><tspan x="2148" dy="18.3">。作为一名体育组长，使我深刻地体会到，一</tspan><tspan x="2148" dy="18.3">个人的力量和智慧是有限的，为了学校的体育</tspan><tspan x="2148" dy="18.3">工作更上一个台阶，我积极配合好组里其他几</tspan><tspan x="2148" dy="18.3">位教师的工作，努力做好学校学生体质测试达</tspan><tspan x="2148" dy="18.3">标工作及业余训练,现已完成省级课题的集体</tspan><tspan x="2148" dy="18.3">报告并顺天通过结题。在教学中根据学生的心</tspan><tspan x="2148" dy="18.3">理与身体特点及学校实际情况认真备好每一节</tspan><tspan x="2148" dy="18.3">课，上好每一节课。以学生为主体，重视激发</tspan><tspan x="2148" dy="18.3">学生的兴趣和爱好，尊重他们的情感体验，课</tspan><tspan x="2148" dy="18.3">堂上留给学生充分的时间参与体育活动，引导</tspan><tspan x="2148" dy="18.3">和鼓励学生自主进行体育锻炼。</tspan></text></g>
<g id="n-s4-p2-b2"><rect x="2141" y="3151" width="299" height="176.7" rx="7" class="bx"/><text class="t" x="2148" y="3170.5"><tspan x="2148" dy="0">在党组织的关心培养与同志们的热情帮助下，</tspan><tspan x="2148" dy="18.3">我认真学习、努力工作、政治思想觉悟都有了</tspan><tspan x="2148" dy="18.3">很大的提高，但我离一个优秀党员的标准和要</tspan><tspan x="2148" dy="18.3">求还有一定的距离，自身也还存在一些不足，</tspan><tspan x="2148" dy="18.3">我将在今后继续加以克服和改正。我相信在以</tspan><tspan x="2148" dy="18.3">后的工作学习中，我会在党组织的关怀下，在</tspan><tspan x="2148" dy="18.3">同志们的帮助下，通过自身的不断学习和进步</tspan><tspan x="2148" dy="18.3">，努力克服不足，以新的更大的成绩来回报组</tspan><tspan x="2148" dy="18.3">织和同志们的帮助和培养。</tspan></text></g>
<g id="n-s4-p2-b3"><rect x="2141" y="3361" width="299" height="85.2" rx="7" class="bx"/><text class="t" x="2148" y="3380.5"><tspan x="2148" dy="0">以上是我近期的思想汇报。希望党组织及时给</tspan><tspan x="2148" dy="18.3">于我批评指导，我会虚心接受意见，不断改正</tspan><tspan x="2148" dy="18.3">缺点和不足，在思想上、行动上做一个合格的</tspan><tspan x="2148" dy="18.3">党员。</tspan></text></g>
<g id="n-s4-p2-b4"><rect x="2141" y="3480" width="299" height="48.6" rx="7" class="bx"/><text class="t" x="2148" y="3499.5"><tspan x="2148" dy="0">请党组织在实践中考验我，并恳请党组织继续</tspan><tspan x="2148" dy="18.3">对我进行细心培养和严格考验。</tspan></text></g>
<g id="n-s4-c1"><rect x="2141" y="3562" width="42" height="31" rx="7" class="bx"/><text class="t" x="2148" y="3583">此致</text></g>
<g id="n-s4-c2"><rect x="2141" y="3625" width="46" height="31" rx="7" class="bx"/><text class="t" x="2148" y="3646">敬礼!</text></g>
<g id="n-s4-c3"><rect x="2141" y="3688" width="92" height="31" rx="7" class="bx"/><text class="t" x="2148" y="3709">汇报人：xxx</text></g>
<g id="n-s4-c4"><rect x="2141" y="3751" width="104" height="31" rx="7" class="bx"/><text class="t" x="2148" y="3772">2022年x月x日</text></g>

<g id="watermarks">
<text class="wm" transform="rotate(-32 655 521)" x="655" y="560">树图 shutu.cn</text>
<text class="wm" transform="rotate(-32 1924 521)" x="1924" y="560">树图 shutu.cn</text>
<text class="wm" transform="rotate(-32 655 1483)" x="655" y="1522">树图 shutu.cn</text>
<text class="wm" transform="rotate(-32 1924 1483)" x="1924" y="1522">树图 shutu.cn</text>
<text class="wm" transform="rotate(-32 655 2445)" x="655" y="2484">树图 shutu.cn</text>
<text class="wm" transform="rotate(-32 1924 2445)" x="1924" y="2484">树图 shutu.cn</text>
<text class="wm" transform="rotate(-32 655 3407)" x="655" y="3446">树图 shutu.cn</text>
<text class="wm" transform="rotate(-32 1924 3407)" x="1924" y="3446">树图 shutu.cn</text>
</g>
</g>
</svg>
